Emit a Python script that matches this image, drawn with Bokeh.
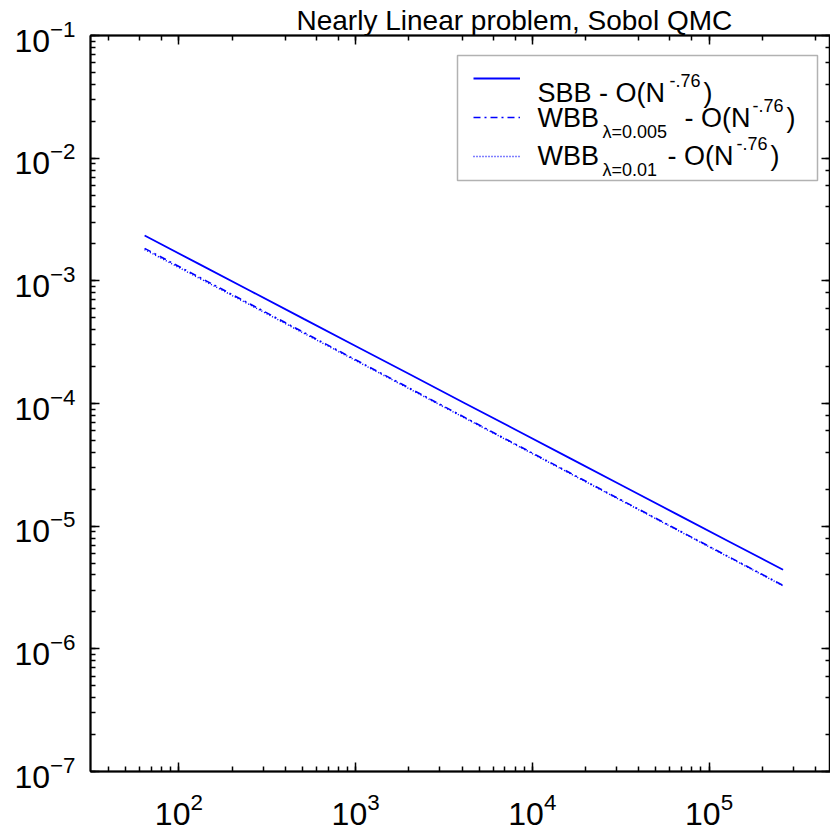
from bokeh.plotting import figure
from bokeh.models import (LogAxis, Label, BoxAnnotation, Legend, LegendItem,
                          Range1d, CustomJSTickFormatter)
from bokeh.embed import file_html
from bokeh.resources import INLINE

# ---------------- data ----------------
N = [64, 128, 256, 512, 1024, 2048, 4096, 8192, 16384, 32768, 65536, 131072, 262144]
sbb = [2.34e-3, 1.387e-3, 8.22e-4, 4.87e-4, 2.89e-4, 1.713e-4, 1.015e-4,
       6.02e-5, 3.57e-5, 2.115e-5, 1.254e-5, 7.43e-6, 4.41e-6]
wbb005 = [1.84e-3, 1.086e-3, 6.41e-4, 3.78e-4, 2.23e-4, 1.317e-4, 7.77e-5,
          4.59e-5, 2.71e-5, 1.598e-5, 9.43e-6, 5.57e-6, 3.29e-6]
wbb01 = [1.80e-3, 1.065e-3, 6.30e-4, 3.72e-4, 2.20e-4, 1.30e-4, 7.68e-5,
         4.54e-5, 2.68e-5, 1.583e-5, 9.35e-6, 5.52e-6, 3.26e-6]

title_text = "Nearly Linear problem, Sobol QMC"
legend_main = ["SBB - O(N", "WBB", "WBB"]
legend_sub = ["", "\u03bb=0.005", "\u03bb=0.01"]
legend_tail = ["", "- O(N", "- O(N"]
legend_sup = "-.76"

FONT = "Liberation Sans"
BLUE = "#0000ff"

# frame position on the page (for annotation placement)
FL, FB = 90, 771

p = figure(width=830, height=836, x_axis_type="log", y_axis_type="log",
           x_range=Range1d(10 ** 1.5, 10 ** 5.687), y_range=Range1d(1e-7, 1e-1),
           output_backend="svg", toolbar_location=None,
           min_border_left=90, min_border_right=0, min_border_top=35,
           min_border_bottom=65)
p.xgrid.visible = False
p.ygrid.visible = False
p.outline_line_color = "black"
p.outline_line_width = 1.5
p.background_fill_color = "white"
p.border_fill_color = "white"

p.title.text = title_text
p.title.text_font = FONT
p.title.text_font_size = "28px"
p.title.text_font_style = "normal"
p.title.text_color = "black"
p.title.align = "left"
p.title.offset = 206
p.title.standoff = 0

r1 = p.line(N, sbb, line_color=BLUE, line_width=1.8)
r2 = p.line(N, wbb005, line_color=BLUE, line_width=1.6, line_dash="7 4 2 4")
r3 = p.line(N, wbb01, line_color=BLUE, line_width=1.5, line_dash="1 2")

bottom = p.below[0]
left = p.left[0]
top = LogAxis(formatter=CustomJSTickFormatter(code="return ''"))
right = LogAxis(formatter=CustomJSTickFormatter(code="return ''"))
p.add_layout(top, "above")
p.add_layout(right, "right")

for ax in [bottom, left, top, right]:
    ax.axis_line_width = 2
    ax.axis_line_color = "black"
    ax.major_tick_in = 9
    ax.major_tick_out = 0
    ax.minor_tick_in = 5
    ax.minor_tick_out = 0
    ax.major_tick_line_width = 1.5
    ax.minor_tick_line_width = 1.5
    ax.major_tick_line_color = "black"
    ax.minor_tick_line_color = "black"
    ax.major_label_text_font = FONT
    ax.major_label_text_font_size = "32px"
    ax.major_label_text_color = "black"
top.major_label_standoff = 0
right.major_label_standoff = 0
left.major_label_standoff = 15
bottom.major_label_standoff = 21


def lab(text, px, py, size, align="left"):
    p.add_layout(Label(x=px - FL, y=FB - py, x_units="screen", y_units="screen",
                       text=text, text_font=FONT, text_font_size=f"{size}px",
                       text_baseline="alphabetic", text_align=align,
                       text_color="black"))


# legend box
p.add_layout(BoxAnnotation(left=457 - FL, right=817 - FL, bottom=FB - 180, top=FB - 55,
                           left_units="screen", right_units="screen",
                           bottom_units="screen", top_units="screen",
                           fill_color="white", fill_alpha=1.0,
                           line_color="black", line_width=1.5))

legend = Legend(items=[LegendItem(label=" ", renderers=[r]) for r in (r1, r2, r3)],
                location=(473 - FL, FB - 175.5), padding=0, margin=0, spacing=0,
                glyph_width=47, glyph_height=20, label_height=39, label_width=1,
                label_standoff=0, label_text_font_size="8px",
                border_line_alpha=0, background_fill_alpha=0)
p.add_layout(legend)

# legend texts
base = [92, 117, 155]
sup_x = [669, 752, 736]
par_x = [703, 786, 770]
tail_x = [None, 684, 667]
for i in range(3):
    lab(legend_main[i], 537, base[i], 27)
    if legend_sub[i]:
        lab(legend_sub[i], 602, base[i] + 14, 18)
    if legend_tail[i]:
        lab(legend_tail[i], tail_x[i], base[i], 27)
    lab(legend_sup, sup_x[i], base[i] - 12, 18)
    lab(")", par_x[i], base[i], 27)

open("out.html", "w").write(file_html(p, INLINE))
